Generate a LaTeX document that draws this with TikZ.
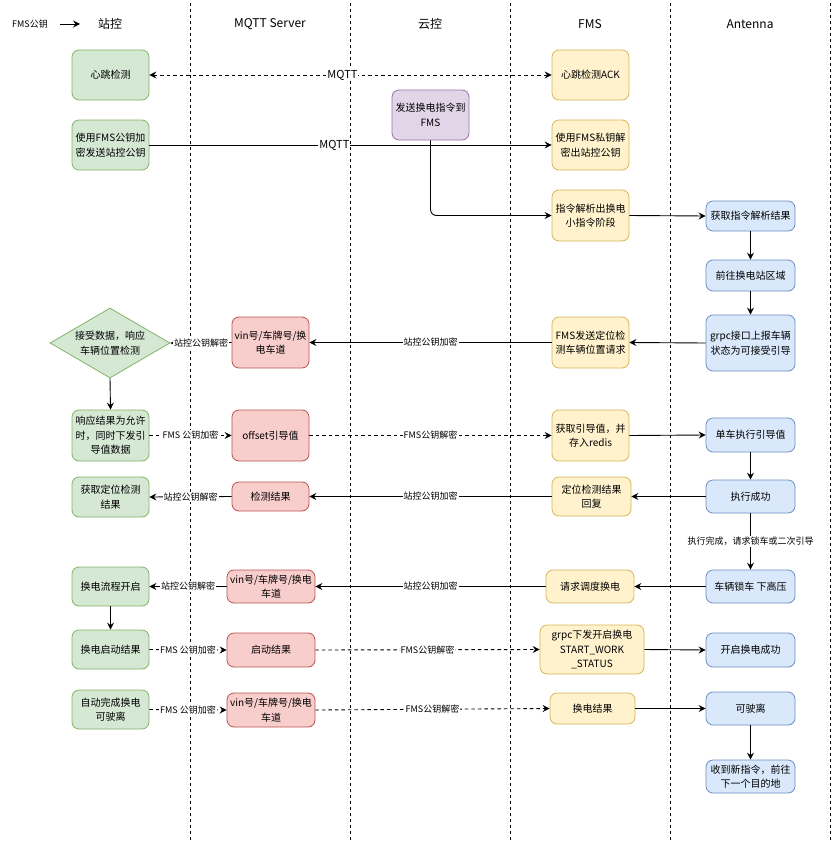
\documentclass[tikz,border=0pt]{standalone}
\usepackage{fontspec}
\setmainfont{Noto Sans CJK SC}
\usetikzlibrary{arrows.meta,shapes.geometric}

\definecolor{zkfill}{HTML}{D5E8D4}\definecolor{zkline}{HTML}{82B366}
\definecolor{mqfill}{HTML}{F8CECC}\definecolor{mqline}{HTML}{B85450}
\definecolor{ykfill}{HTML}{E1D5E7}\definecolor{ykline}{HTML}{9673A6}
\definecolor{fmfill}{HTML}{FFF2CC}\definecolor{fmline}{HTML}{D6B656}
\definecolor{anfill}{HTML}{DAE8FC}\definecolor{anline}{HTML}{6C8EBF}

\tikzset{
  box/.style={draw, rounded corners=7pt, align=center, inner sep=1pt,
    line width=0.8pt, font=\fontsize{10}{14.5}\selectfont},
  zkbox/.style={box, fill=zkfill, draw=zkline},
  mqbox/.style={box, fill=mqfill, draw=mqline},
  ykbox/.style={box, fill=ykfill, draw=ykline},
  fmbox/.style={box, fill=fmfill, draw=fmline},
  anbox/.style={box, fill=anfill, draw=anline},
  lane/.style={line width=0.8pt, dash pattern=on 3pt off 3pt},
  msg/.style={line width=0.9pt, -{Stealth[length=7pt,width=7pt,inset=2.5pt]}},
  dmsg/.style={msg, dash pattern=on 3.5pt off 3pt},
  lbl/.style={fill=white, inner sep=1pt, font=\fontsize{9}{10}\selectfont},
  mqlbl/.style={lbl, font=\fontsize{11}{12}\selectfont},
  head/.style={font=\fontsize{12}{14}\selectfont}
}

\begin{document}
\begin{tikzpicture}[x=1pt, y=-1pt]
\useasboundingbox (0,0) rectangle (832,843);

% lanes
\foreach \lx in {190,350,510,670,830}
  \draw[lane] (\lx,3) -- (\lx,840);

% headers
\node[font=\fontsize{9}{10}\selectfont] (lgd) at (30,24) {FMS公钥};
\coordinate (lgdA) at (60,24);
\coordinate (lgdB) at (80,24);
\draw[msg] (lgdA) -- (lgdB);
\node[head] (hzk) at (110,24) {站控};
\node[head] (hmq) at (270,24) {MQTT Server};
\node[head] (hyk) at (430,24) {云控};
\node[head] (hfm) at (590,24) {FMS};
\node[head] (han) at (750,24) {Antenna};

% 站控
\node[zkbox, minimum width=77, minimum height=50] (hb) at (110.5,75) {心跳检测};
\node[zkbox, minimum width=77, minimum height=50] (enc) at (110.5,145) {使用FMS公钥加\\密发送站控公钥};
\node[draw=zkline, fill=zkfill, line width=0.8pt, diamond, aspect=1.7, inner sep=0pt,
  minimum width=120, minimum height=70, align=center, font=\fontsize{10}{14.5}\selectfont]
  (dia) at (110,343) {接受数据，响应\\车辆位置检测};
\node[zkbox, minimum width=77, minimum height=51] (resp) at (110.5,435.5) {响应结果为允许\\时，同时下发引\\导值数据};
\node[zkbox, minimum width=77, minimum height=40] (getres) at (110.5,497) {获取定位检测\\结果};
\node[zkbox, minimum width=77, minimum height=39] (swst) at (110.5,586.5) {换电流程开启};
\node[zkbox, minimum width=77, minimum height=39] (swres) at (110.5,649.5) {换电启动结果};
\node[zkbox, minimum width=77, minimum height=39] (auto) at (110.5,709.5) {自动完成换电\\可驶离};

% MQTT Server
\node[mqbox, minimum width=77, minimum height=51] (vin1) at (270.5,342.5) {vin号/车牌号/换\\电车道};
\node[mqbox, minimum width=77, minimum height=51] (offs) at (270.5,435.5) {offset引导值};
\node[mqbox, minimum width=77, minimum height=29] (det) at (270.5,496.5) {检测结果};
\node[mqbox, minimum width=88, minimum height=33] (vin2) at (271,586.5) {vin号/车牌号/换电\\车道};
\node[mqbox, minimum width=88, minimum height=34] (stres) at (271,650) {启动结果};
\node[mqbox, minimum width=88, minimum height=34] (vin3) at (271,710) {vin号/车牌号/换电\\车道};

% 云控
\node[ykbox, minimum width=77, minimum height=50] (cmd) at (430.5,115) {发送换电指令到\\FMS};

% FMS
\node[fmbox, minimum width=77, minimum height=50] (ack) at (590.5,75) {心跳检测ACK};
\node[fmbox, minimum width=77, minimum height=50] (dec) at (590.5,145) {使用FMS私钥解\\密出站控公钥};
\node[fmbox, minimum width=77, minimum height=51] (parse) at (590.5,215.5) {指令解析出换电\\小指令阶段};
\node[fmbox, minimum width=77, minimum height=51] (req) at (590.5,342.5) {FMS发送定位检\\测车辆位置请求};
\node[fmbox, minimum width=77, minimum height=51] (redis) at (590.5,435.5) {获取引导值，并\\存入redis};
\node[fmbox, minimum width=79, minimum height=39] (reply) at (591.5,496.5) {定位检测结果\\回复};
\node[fmbox, minimum width=88, minimum height=33] (disp) at (590,586.5) {请求调度换电};
\node[fmbox, minimum width=104, minimum height=49] (grpcs) at (592,649.5) {grpc下发开启换电\\START\_WORK\\\_STATUS};
\node[fmbox, minimum width=85, minimum height=31] (swdone) at (592.5,708.5) {换电结果};

% Antenna
\node[anbox, minimum width=89, minimum height=30] (ant1) at (750.5,216) {获取指令解析结果};
\node[anbox, minimum width=89, minimum height=31] (ant2) at (750.5,275.5) {前往换电站区域};
\node[anbox, minimum width=89, minimum height=56] (ant3) at (750.5,343) {grpc接口上报车辆\\状态为可接受引导};
\node[anbox, minimum width=89, minimum height=34] (ant4) at (750.5,435) {单车执行引导值};
\node[anbox, minimum width=89, minimum height=33] (ant5) at (750.5,496.5) {执行成功};
\node[anbox, minimum width=89, minimum height=33] (ant6) at (750.5,586.5) {车辆锁车 下高压};
\node[anbox, minimum width=89, minimum height=34] (ant7) at (750.5,650) {开启换电成功};
\node[anbox, minimum width=89, minimum height=33] (ant8) at (750.5,708.5) {可驶离};
\node[anbox, minimum width=89, minimum height=33] (ant9) at (750.5,776.5) {收到新指令，前往\\下一个目的地};

% messages
\draw[dmsg, {Stealth[length=7pt,width=7pt,inset=2.5pt]}-{Stealth[length=7pt,width=7pt,inset=2.5pt]}]
  (hb.east) -- node[mqlbl, pos=0.48]{MQTT} (ack.west);
\draw[msg] (enc.east) -- node[mqlbl, pos=0.46]{MQTT} (dec.west);
\draw[msg, rounded corners=6pt] (cmd.south) |- (parse.west);
\draw[msg] (parse.east) -- (ant1.west);
\draw[msg] (ant1) -- (ant2);
\draw[msg] (ant2) -- (ant3);
\draw[msg] (ant3.west) -- (req.east);
\draw[msg] (req.west) -- node[lbl]{站控公钥加密} (vin1.east);
\draw[msg] (vin1.west) -- node[lbl]{站控公钥解密} (dia.east);
\draw[msg] (dia.south) -- (resp.north);
\draw[dmsg] (resp.east) -- node[lbl]{FMS 公钥加密} (offs.west);
\draw[dmsg] (offs.east) -- node[lbl]{FMS公钥解密} (redis.west);
\draw[msg] (redis.east) -- (ant4.west);
\draw[msg] (ant4) -- (ant5);
\draw[msg] (ant5.west) -- (reply.east);
\draw[msg] (reply.west) -- node[lbl]{站控公钥加密} (det.east);
\draw[msg] (det.west) -- node[lbl]{站控公钥解密} (getres.east);
\draw[msg] (ant5) -- node[lbl]{执行完成，请求锁车或二次引导} (ant6);
\draw[msg] (ant6.west) -- (disp.east);
\draw[msg] (disp.west) -- node[lbl]{站控公钥加密} (vin2.east);
\draw[msg] (vin2.west) -- node[lbl]{站控公钥解密} (swst.east);
\draw[msg] (swst) -- (swres);
\draw[dmsg] (swres.east) -- node[lbl]{FMS 公钥加密} (stres.west);
\draw[dmsg] (stres.east) -- node[lbl]{FMS公钥解密} (grpcs.west);
\draw[msg] (grpcs.east) -- (ant7.west);
\draw[dmsg] (auto.east) -- node[lbl]{FMS 公钥加密} (vin3.west);
\draw[dmsg] (vin3.east) -- node[lbl]{FMS公钥解密} (swdone.west);
\draw[msg] (swdone.east) -- (ant8.west);
\draw[msg] (ant8) -- (ant9);

\end{tikzpicture}
\end{document}
